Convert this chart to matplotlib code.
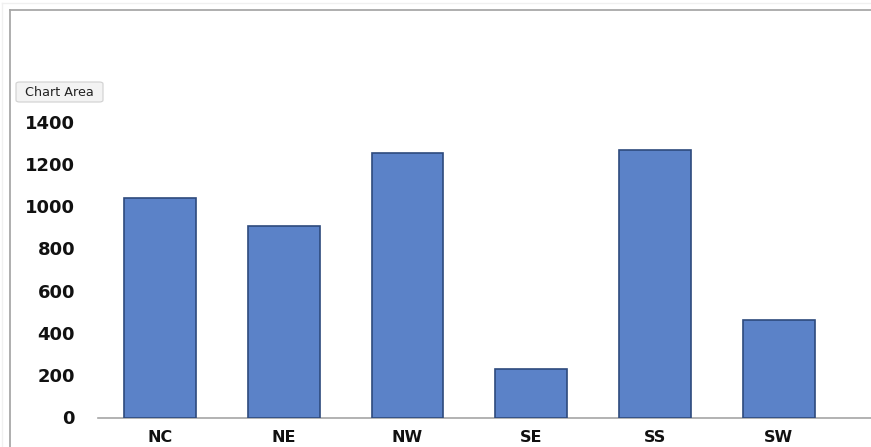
import matplotlib
matplotlib.use("Agg")
import matplotlib.pyplot as plt
from matplotlib.lines import Line2D
from matplotlib.patches import FancyBboxPatch

categories = ["NC", "NE", "NW", "SE", "SS", "SW"]
values = [1040, 905, 1252, 230, 1264, 461]
yticks = [0, 200, 400, 600, 800, 1000, 1200, 1400]

W, H = 871, 447
fig = plt.figure(figsize=(W / 100, H / 100), dpi=100)
fig.patch.set_facecolor("white")

left_px, right_px = 98, 871
zero_px, top_px = 417.5, 121.7
band = 123.8
ax = fig.add_axes([left_px / W, (H - zero_px) / H, (right_px - left_px) / W, (zero_px - top_px) / H])
ax.bar(range(len(categories)), values, width=0.58, color="#5b82c8",
       edgecolor="#2e4a7d", linewidth=1.2, zorder=3)
ax.set_xlim(-0.5, -0.5 + (right_px - left_px) / band)
ax.set_ylim(0, 1400)
ax.set_yticks(yticks)
ax.set_yticklabels([str(v) for v in yticks])
ax.set_xticks(range(len(categories)))
ax.set_xticklabels(categories)
for s in ["top", "right", "left"]:
    ax.spines[s].set_visible(False)
ax.spines["bottom"].set_color("#a6a6a6")
ax.spines["bottom"].set_linewidth(1.2)
ax.tick_params(axis="y", length=0, pad=16.5, labelsize=13)
ax.tick_params(axis="x", length=0, pad=9, labelsize=11.5)
for lbl in ax.get_yticklabels() + ax.get_xticklabels():
    lbl.set_fontweight("bold")
    lbl.set_color("#111111")
ax.set_facecolor("none")

# chart area border (screenshot frame)
fig.add_artist(Line2D([9.5 / W, 9.5 / W], [0, 1 - 10 / H], transform=fig.transFigure,
                      color="#a8a8a8", linewidth=1.3))
fig.add_artist(Line2D([9.5 / W, 1], [1 - 10 / H, 1 - 10 / H], transform=fig.transFigure,
                      color="#a8a8a8", linewidth=1.3))
fig.add_artist(Line2D([2 / W, 2 / W], [0, 1 - 3 / H], transform=fig.transFigure,
                      color="#f0f0f0", linewidth=1))
fig.add_artist(Line2D([2 / W, 1], [1 - 3 / H, 1 - 3 / H], transform=fig.transFigure,
                      color="#f0f0f0", linewidth=1))

# "Chart Area" tooltip
box = FancyBboxPatch((16 / W, 1 - 102 / H), 87 / W, 20 / H,
                     boxstyle="round,pad=0,rounding_size=0.004",
                     transform=fig.transFigure, facecolor="#f3f3f3",
                     edgecolor="#d0d0d0", linewidth=0.8)
fig.add_artist(box)
fig.text(59 / W, 1 - 92 / H, "Chart Area", ha="center", va="center",
         fontsize=9.2, color="#222222")

fig.savefig("out.png", dpi=100)
